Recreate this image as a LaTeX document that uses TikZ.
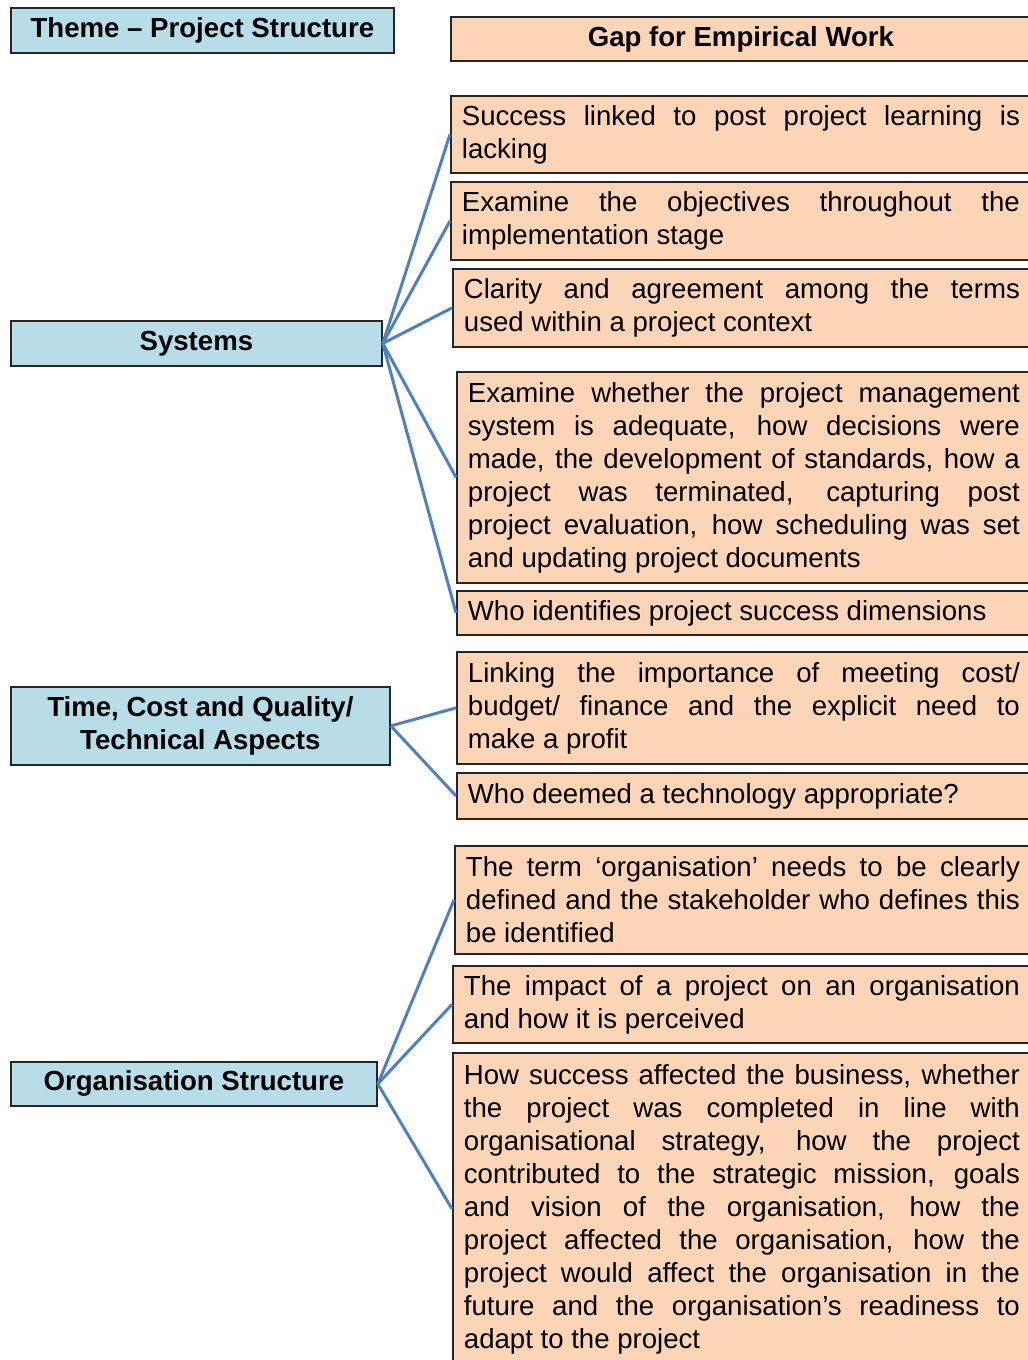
\documentclass[tikz,border=0pt]{standalone}
\usepackage{fontspec}
\setmainfont{Liberation Sans}
\usepackage{xcolor}
\usetikzlibrary{positioning}
\definecolor{themeblue}{RGB}{183,221,232}
\definecolor{gaporange}{RGB}{251,213,181}
\definecolor{linkblue}{RGB}{79,129,189}
\hyphenpenalty=10000
\exhyphenpenalty=10000
\tikzset{%
	leftbox/.style={
		draw=black!85,
		line width=0.9pt,
		fill=themeblue,
		align=center,
		anchor=north west,
		inner sep=0pt,
		font=\fontsize{13.8}{16.5}\selectfont\bfseries
	},
	gapbox/.style={
		draw=black!85,
		line width=0.9pt,
		fill=gaporange,
		align=justify,
		anchor=north west,
		inner xsep=5.5pt,
		inner ysep=0pt,
		font=\fontsize{13.8}{16.5}\selectfont
	},
}

\begin{document}
\begin{tikzpicture}[
				x=0.5pt, y=-0.5pt,
				linkline/.style={draw=linkblue, line width=1.5pt}
				]
				\clip (0,0) rectangle (1028,1360);
				
				% Themes on the left
				\node[leftbox, minimum width=191.5pt, minimum height=22.5pt] (theme) at (10,7) {Theme – Project Structure};
				\node[leftbox, minimum width=185.5pt, minimum height=22.5pt] (sys) at (10,320) {Systems};
				\node[leftbox, minimum width=189.5pt, minimum height=39pt] (tcq) at (10,686) {Time, Cost and Quality/\\Technical Aspects};
				\node[leftbox, minimum width=183pt, minimum height=22pt] (org) at (10,1061) {Organisation Structure};
				
				% Gaps on the right
				\node[leftbox, fill=gaporange, minimum width=290pt, minimum height=22pt] (gap) at (450,16) {Gap for Empirical Work};
				\node[gapbox, text width=279pt, minimum height=38.5pt] (g1) at (450,95)
				{Success linked to post project learning is\linebreak lacking};
				\node[gapbox, text width=279pt, minimum height=39pt] (g2) at (450,181)
				{Examine the objectives throughout the\linebreak implementation stage};
				\node[gapbox, text width=278pt, minimum height=39pt] (g3) at (452,268)
				{Clarity and agreement among the terms\linebreak used within a project context};
				\node[gapbox, text width=276pt, minimum height=105.5pt] (g4) at (456,371)
				{Examine whether the project management\linebreak system is adequate, how decisions were\linebreak made, the development of standards, how a\linebreak project was terminated, capturing post\linebreak project evaluation, how scheduling was set\linebreak and updating project documents};
				\node[gapbox, text width=276pt, minimum height=22pt] (g5) at (456,590)
				{Who identifies project success dimensions};
				\node[gapbox, text width=276pt, minimum height=56pt] (g6) at (456,651)
				{Linking the importance of meeting cost/\linebreak budget/ finance and the explicit need to\linebreak make a profit};
				\node[gapbox, text width=276pt, minimum height=23pt] (g7) at (456,772)
				{Who deemed a technology appropriate?};
				\node[gapbox, text width=277pt, minimum height=54pt] (g8) at (454,845)
				{The term ‘organisation’ needs to be clearly\linebreak defined and the stakeholder who defines this\linebreak be identified};
				\node[gapbox, text width=278pt, minimum height=38.5pt] (g9) at (452,965)
				{The impact of a project on an organisation\linebreak and how it is perceived};
				\node[gapbox, text width=278pt, minimum height=156pt] (g10) at (452,1052)
				{How success affected the business, whether\linebreak the project was completed in line with\linebreak organisational strategy, how the project\linebreak contributed to the strategic mission, goals\linebreak and vision of the organisation, how the\linebreak project affected the organisation, how the\linebreak project would affect the organisation in the\linebreak future and the organisation’s readiness to\linebreak adapt to the project};
				
				% Links from each theme to its gaps
				\foreach \g in {g1,g2,g3,g4,g5}
					\draw[linkline] (sys.east) -- (\g.west);
				\foreach \g in {g6,g7}
					\draw[linkline] (tcq.east) -- (\g.west);
				\foreach \g in {g8,g9,g10}
					\draw[linkline] (org.east) -- (\g.west);
				
			\end{tikzpicture}
\end{document}
